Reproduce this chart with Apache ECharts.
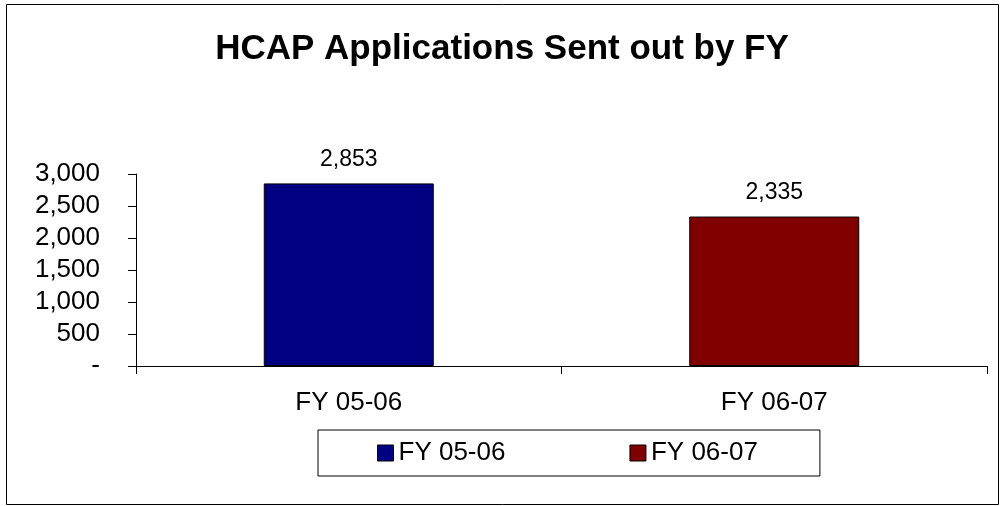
<!DOCTYPE html>
<html>
<head>
<meta charset="utf-8">
<script src="https://cdn.jsdelivr.net/npm/echarts@6/dist/echarts.min.js"></script>
<style>
  html, body { margin: 0; padding: 0; background: #fff; }
  #chart { width: 1004px; height: 506px; }
</style>
</head>
<body>
<div id="chart"></div>
<script>
  // data
  var categories = ['FY 05-06', 'FY 06-07'];
  var seriesNames = ['FY 05-06', 'FY 06-07'];
  var fy0506 = [2853, '-'];
  var fy0607 = ['-', 2335];
  var colors = ['#000080', '#800000'];

  var font = '"Liberation Sans", Arial, sans-serif';
  var chart = echarts.init(document.getElementById('chart'));

  var labelOption = {
    show: true,
    position: 'top',
    distance: 12,
    color: '#000',
    fontSize: 23,
    fontFamily: font,
    formatter: function (p) { return p.value.toLocaleString('en-US'); }
  };

  var option = {
    animation: false,
    backgroundColor: '#fff',
    color: colors,
    title: {
      text: 'HCAP Applications Sent out by FY',
      left: 'center',
      top: 27,
      textStyle: { fontSize: 35, fontWeight: 'bold', fontFamily: font, color: '#000' }
    },
    graphic: [{
      type: 'rect',
      shape: { x: 6.5, y: 4.5, width: 992, height: 500 },
      style: { fill: 'none', stroke: '#000', lineWidth: 1 },
      silent: true
    }],
    legend: {
      data: seriesNames,
      bottom: 30,
      left: 318,
      itemWidth: 16,
      itemHeight: 16,
      itemGap: 124,
      padding: [10, 62, 10, 59],
      borderColor: '#000',
      borderWidth: 1,
      icon: 'rect',
      itemStyle: { borderColor: '#000', borderWidth: 1 },
      textStyle: { fontSize: 26, fontFamily: font, color: '#000' }
    },
    grid: { left: 136, right: 17, top: 174, bottom: 140 },
    xAxis: {
      type: 'category',
      data: categories,
      axisLine: { lineStyle: { color: '#000' } },
      axisTick: { show: true, length: 8, lineStyle: { color: '#000' } },
      axisLabel: { fontSize: 26, fontFamily: font, color: '#000', margin: 24 }
    },
    yAxis: {
      type: 'value',
      min: 0,
      max: 3000,
      interval: 500,
      axisLine: { show: true, lineStyle: { color: '#000' } },
      axisTick: { show: true, length: 8, lineStyle: { color: '#000' } },
      splitLine: { show: false },
      axisLabel: {
        fontSize: 26, fontFamily: font, color: '#000', margin: 36,
        formatter: function (v) { return v === 0 ? '-' : v.toLocaleString('en-US'); }
      }
    },
    series: [{
      name: seriesNames[0],
      type: 'bar',
      stack: 'fy',
      data: fy0506,
      barWidth: 170,
      itemStyle: { color: colors[0], borderColor: '#000', borderWidth: 1 },
      label: labelOption
    }, {
      name: seriesNames[1],
      type: 'bar',
      stack: 'fy',
      data: fy0607,
      barWidth: 170,
      itemStyle: { color: colors[1], borderColor: '#000', borderWidth: 1 },
      label: labelOption
    }]
  };

  chart.setOption(option);
</script>
</body>
</html>
